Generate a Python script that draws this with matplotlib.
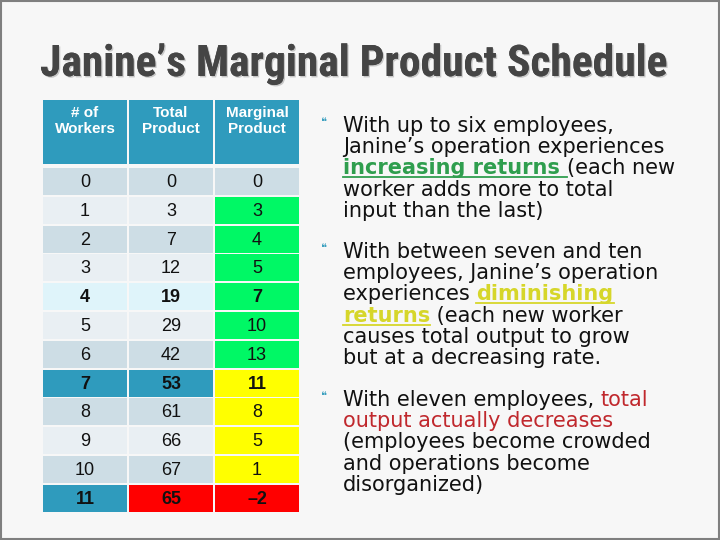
import matplotlib
matplotlib.use("Agg")
import matplotlib.pyplot as plt
import matplotlib.patheffects as pe
from matplotlib import font_manager
from matplotlib.patches import Rectangle

# table data
headers = ["# of\nWorkers", "Total\nProduct", "Marginal\nProduct"]
workers = [0, 1, 2, 3, 4, 5, 6, 7, 8, 9, 10, 11]
total_product = [0, 3, 7, 12, 19, 29, 42, 53, 61, 66, 67, 65]
marginal_product = [0, 3, 4, 5, 7, 10, 13, 11, 8, 5, 1, -2]
bold_rows = [4, 7, 11]

title = "Janine\u2019s Marginal Product Schedule"

# bullet text: each line is a list of (text, style) segments
bullets = [
    [
        [("With up to six employees,", "n")],
        [("Janine\u2019s operation experiences", "n")],
        [("increasing returns ", "g"), ("(each new", "n")],
        [("worker adds more to total", "n")],
        [("input than the last)", "n")],
    ],
    [
        [("With between seven and ten", "n")],
        [("employees, Janine\u2019s operation", "n")],
        [("experiences ", "n"), ("diminishing", "y")],
        [("returns", "y"), (" (each new worker", "n")],
        [("causes total output to grow", "n")],
        [("but at a decreasing rate.", "n")],
    ],
    [
        [("With eleven employees, ", "n"), ("total", "r")],
        [("output actually decreases", "r")],
        [("(employees become crowded", "n")],
        [("and operations become", "n")],
        [("disorganized)", "n")],
    ],
]

HEAD = "#2f9bbd"
DARK = "#cddde5"
LIGHT = "#e9eff3"
CYAN = "#dff4fa"
GREEN = "#00f865"
YELLOW = "#ffff00"
RED = "#ff0000"

row_fill = [DARK, LIGHT, DARK, LIGHT, CYAN, LIGHT, DARK, HEAD, DARK, LIGHT, DARK, HEAD]

styles = {
    "n": dict(color="#111111"),
    "g": dict(color="#2f9e4e", fontweight="bold"),
    "y": dict(color="#d6d62a", fontweight="bold"),
    "r": dict(color="#c0282d"),
}
underlined = {"g", "y"}

names = {f.name for f in font_manager.fontManager.ttflist}
title_font = "DejaVu Sans"
for cand in ["Liberation Sans Narrow", "Roboto Condensed", "Roboto"]:
    if cand in names:
        title_font = cand
        break

fig = plt.figure(figsize=(7.2, 5.4), dpi=100)
fig.patch.set_facecolor("#f7f7f7")
ax = fig.add_axes([0, 0, 1, 1])
ax.set_xlim(0, 720)
ax.set_ylim(540, 0)
ax.axis("off")
renderer = fig.canvas.get_renderer()

# slide border
ax.add_patch(Rectangle((1, 1), 718, 538, fill=False, ec="#7f7f7f", lw=1.5))

# title, scaled to the slide width
t = ax.text(40, 76, title, fontsize=27, fontweight="bold", family=title_font,
            color="#454545", va="baseline", ha="left",
            path_effects=[pe.withSimplePatchShadow(offset=(1, -1), shadow_rgbFace="#c8c8c8", alpha=1),
                          pe.Normal()])
w = t.get_window_extent(renderer).width
t.set_fontsize(27 * 628 / w)

# table
col_x = [43, 129, 215]
col_w = 84
head_top, head_h = 100, 64
row_top, row_step, row_h = 168, 28.8, 27

for j, h in enumerate(headers):
    ax.add_patch(Rectangle((col_x[j], head_top), col_w, head_h, color=HEAD, lw=0))
    ax.text(col_x[j] + col_w / 2, head_top + 6, h, ha="center", va="top",
            fontsize=11, fontweight="bold", family="Liberation Sans",
            color="white", linespacing=1.15)

for i, (n, tp, mp) in enumerate(zip(workers, total_product, marginal_product)):
    y0 = row_top + i * row_step
    if i == 0:
        fills = [row_fill[i]] * 3
    elif i <= 6:
        fills = [row_fill[i], row_fill[i], GREEN]
    elif i <= 10:
        fills = [row_fill[i], row_fill[i], YELLOW]
    else:
        fills = [HEAD, RED, RED]
    weight = "bold" if i in bold_rows else "normal"
    for j, val in enumerate([n, tp, mp]):
        ax.add_patch(Rectangle((col_x[j], y0), col_w, row_h, color=fills[j], lw=0))
        ax.text(col_x[j] + col_w / 2, y0 + row_h / 2 + 1, f"{val}".replace("-", "\u2013"),
                ha="center", va="center", fontsize=13, fontweight=weight,
                family="Liberation Sans", color="#111111")

# bullets
text_x = 343
line_step = 21.2
starts = [132, 258, 406]
for b, lines in enumerate(bullets):
    y = starts[b]
    ax.text(321, y - 10, "\u275d", fontsize=8, color="#3a9fbf", ha="left", va="center")
    for segs in lines:
        x = text_x
        for txt, st in segs:
            tt = ax.text(x, y, txt, fontsize=15, ha="left", va="baseline", **styles[st])
            ww = tt.get_window_extent(renderer).width
            if st in underlined:
                ax.plot([x, x + ww], [y + 3, y + 3], color=styles[st]["color"], lw=1.3)
            x += ww
        y += line_step

fig.savefig("out.png", dpi=100, facecolor=fig.get_facecolor())
